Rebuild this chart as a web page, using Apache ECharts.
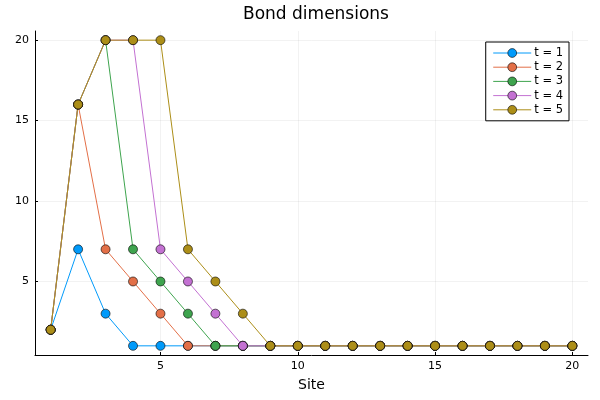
<!DOCTYPE html>
<html>
<head>
<meta charset="utf-8">
<script src="https://cdn.jsdelivr.net/npm/echarts@6/dist/echarts.min.js"></script>
<style>
  html, body { margin: 0; padding: 0; background: #fff; }
  #main { width: 600px; height: 400px; }
</style>
</head>
<body>
<div id="main"></div>
<script>
var sites = [1, 2, 3, 4, 5, 6, 7, 8, 9, 10, 11, 12, 13, 14, 15, 16, 17, 18, 19, 20];
var names = ['t = 1', 't = 2', 't = 3', 't = 4', 't = 5'];
var t1 = [2, 7, 3, 1, 1, 1, 1, 1, 1, 1, 1, 1, 1, 1, 1, 1, 1, 1, 1, 1];
var t2 = [2, 16, 7, 5, 3, 1, 1, 1, 1, 1, 1, 1, 1, 1, 1, 1, 1, 1, 1, 1];
var t3 = [2, 16, 20, 7, 5, 3, 1, 1, 1, 1, 1, 1, 1, 1, 1, 1, 1, 1, 1, 1];
var t4 = [2, 16, 20, 20, 7, 5, 3, 1, 1, 1, 1, 1, 1, 1, 1, 1, 1, 1, 1, 1];
var t5 = [2, 16, 20, 20, 20, 7, 5, 3, 1, 1, 1, 1, 1, 1, 1, 1, 1, 1, 1, 1];
var xTicks = [5, 10, 15, 20];
var yTicks = [5, 10, 15, 20];
var colors = ['#009AFA', '#E36F47', '#3EA44E', '#C371D2', '#AC8E18'];

var fontFamily = 'DejaVu Sans';
var labelStyle = {color: '#000', fontSize: 11, fontFamily: fontFamily};
var gridLine = {show: true, lineStyle: {color: '#000', opacity: 0.1, width: 0.5}};

function makeSeries(name, values, color)
{
    return {
        name: name,
        type: 'line',
        data: sites.map(function(s, i) { return [s, values[i]]; }),
        symbol: 'circle',
        symbolSize: 9,
        color: color,
        lineStyle: {width: 1, color: color},
        itemStyle: {color: color, borderColor: '#000', borderWidth: 0.6},
        emphasis: {disabled: true},
        animation: false
    };
}

var chart  = echarts.init(document.getElementById('main'));
var option = {
    animation: false,
    title: {
        text: 'Bond dimensions',
        left: 311,
        textAlign: 'center',
        top: 1,
        textStyle: {color: '#000', fontSize: 17, fontWeight: 'normal', fontFamily: fontFamily}
    },
    legend: {
        right: 31,
        top: 42,
        orient: 'vertical',
        itemWidth: 38,
        itemHeight: 11,
        itemGap: 2.2,
        padding: [5, 6, 5, 7],
        borderColor: '#000',
        borderWidth: 1,
        borderRadius: 0,
        backgroundColor: '#fff',
        lineStyle: {width: 1},
        itemStyle: {borderColor: '#000', borderWidth: 0.6},
        textStyle: {color: '#000', fontSize: 11.5, fontFamily: fontFamily, padding: [0, 0, 0, -2]},
        data: names
    },
    grid: {left: 35, right: 12, top: 31, bottom: 45, containLabel: false},
    xAxis: {
        type: 'value',
        min: 0.43,
        max: 20.57,
        name: 'Site',
        nameLocation: 'middle',
        nameGap: 23,
        nameTextStyle: {color: '#000', fontSize: 14, fontFamily: fontFamily},
        axisLine: {show: true, onZero: false, lineStyle: {color: '#000', width: 1}},
        axisTick: {show: true, inside: true, length: 3, customValues: xTicks, lineStyle: {color: '#000'}},
        axisLabel: Object.assign({customValues: xTicks, margin: 6}, labelStyle),
        splitLine: gridLine
    },
    yAxis: {
        type: 'value',
        min: 0.43,
        max: 20.57,
        axisLine: {show: true, onZero: false, lineStyle: {color: '#000', width: 1}},
        axisTick: {show: true, inside: true, length: 3, customValues: yTicks, lineStyle: {color: '#000'}},
        axisLabel: Object.assign({customValues: yTicks, margin: 6}, labelStyle),
        splitLine: gridLine
    },
    series: [
        makeSeries(names[0], t1, colors[0]),
        makeSeries(names[1], t2, colors[1]),
        makeSeries(names[2], t3, colors[2]),
        makeSeries(names[3], t4, colors[3]),
        makeSeries(names[4], t5, colors[4])
    ]
};
chart.setOption(option);
</script>
</body>
</html>
